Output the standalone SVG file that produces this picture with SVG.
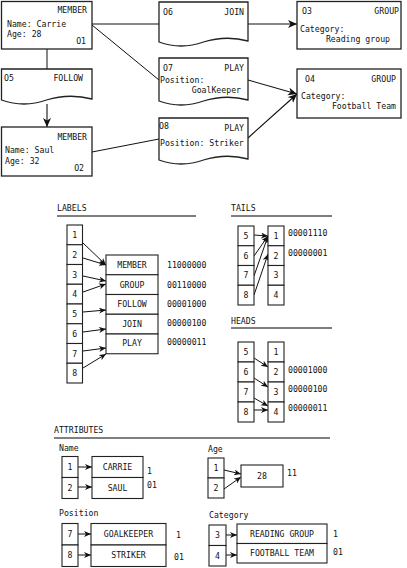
<svg xmlns="http://www.w3.org/2000/svg" width="407" height="568" viewBox="0 0 407 568">
<style>
text{font-family:"DejaVu Sans Mono","Liberation Mono",monospace;font-size:8.2px;fill:#111}
.e{text-anchor:end}.m{text-anchor:middle}
.b{fill:#fff;stroke:#222;stroke-width:1.3}
.c{fill:#fff;stroke:#222;stroke-width:1.1}
.l{fill:none;stroke:#111;stroke-width:1}
.a{fill:none;stroke:#111;stroke-width:1;marker-end:url(#ah)}
.A{fill:none;stroke:#111;stroke-width:1.1;marker-end:url(#AH)}
.u{stroke:#555;stroke-width:1.4}
</style>
<defs>
<marker id="ah" markerUnits="userSpaceOnUse" markerWidth="8" markerHeight="8" refX="7" refY="3" orient="auto"><path d="M0,0 L7,3 L0,6 L2,3 z" fill="#111"/></marker>
<marker id="AH" markerUnits="userSpaceOnUse" markerWidth="10" markerHeight="10" refX="9" refY="4" orient="auto"><path d="M0,0 L9,4 L0,8 L2.5,4 z" fill="#111"/></marker>
</defs>
<rect width="407" height="568" fill="#fff"/>
<g id="connectors">
<line class="l" x1="92" y1="24" x2="159" y2="24"/>
<line class="l" x1="92" y1="25" x2="159" y2="80"/>
<line class="l" x1="47" y1="49" x2="47" y2="69"/>
<line class="A" x1="47" y1="104" x2="47" y2="127"/>
<line class="l" x1="92" y1="152" x2="159" y2="139"/>
<line class="A" x1="248" y1="24" x2="297" y2="24"/>
<line class="A" x1="248" y1="80" x2="297" y2="94"/>
<line class="A" x1="248" y1="138" x2="297" y2="94"/>
<line class="a" x1="83" y1="243" x2="106" y2="265"/>
<line class="a" x1="83" y1="258" x2="106" y2="265"/>
<line class="a" x1="83" y1="276" x2="106" y2="281"/>
<line class="a" x1="83" y1="292" x2="106" y2="284"/>
<line class="a" x1="83" y1="312" x2="106" y2="310"/>
<line class="a" x1="83" y1="332" x2="106" y2="329"/>
<line class="a" x1="83" y1="351" x2="106" y2="348"/>
<line class="a" x1="83" y1="368" x2="106" y2="354"/>
<line class="a" x1="254" y1="235" x2="268" y2="236"/>
<line class="a" x1="254" y1="256" x2="268" y2="236"/>
<line class="a" x1="254" y1="276" x2="268" y2="236"/>
<line class="a" x1="254" y1="295" x2="268" y2="254"/>
<line class="a" x1="254" y1="358" x2="268" y2="367"/>
<line class="a" x1="254" y1="378" x2="268" y2="387"/>
<line class="a" x1="254" y1="398" x2="268" y2="406"/>
<line class="a" x1="254" y1="410" x2="268" y2="410"/>
<line class="a" x1="78" y1="467" x2="92" y2="467"/>
<line class="a" x1="78" y1="487" x2="92" y2="487"/>
<line class="a" x1="224" y1="470" x2="241" y2="474"/>
<line class="a" x1="224" y1="489" x2="241" y2="477"/>
<line class="a" x1="78" y1="534" x2="91" y2="534"/>
<line class="a" x1="78" y1="555" x2="91" y2="555"/>
<line class="a" x1="226" y1="535" x2="237" y2="535"/>
<line class="a" x1="226" y1="555" x2="237" y2="555"/>
</g>
<g id="n01"><rect class="b" x="1.5" y="1.5" width="90.5" height="47.5"/><text class="e" x="87" y="13">MEMBER</text><text x="7" y="27">Name: Carrie</text><text x="7" y="37">Age: 28</text><text class="e" x="86" y="44">O1</text></g>
<g id="n05"><path class="b" d="M1.5,69 H92 V99 Q69,93 46.5,100 Q24,108 1.5,100 Z"/><text x="4" y="81">O5</text><text class="e" x="83" y="81">FOLLOW</text></g>
<g id="n02"><rect class="b" x="1.5" y="127" width="90.5" height="49"/><text class="e" x="87" y="140">MEMBER</text><text x="5" y="153">Name: Saul</text><text x="5" y="164">Age: 32</text><text class="e" x="84" y="171">O2</text></g>
<g id="n06"><path class="b" d="M159,2 H248 V41 Q226,35 203.5,42 Q181,50 159,42 Z"/><text x="163" y="15">O6</text><text class="e" x="244" y="15">JOIN</text></g>
<g id="n07"><path class="b" d="M159,58 H248 V100 Q226,94 203.5,101 Q181,109 159,101 Z"/><text x="163" y="71">O7</text><text class="e" x="244" y="71">PLAY</text><text x="160" y="83">Position:</text><text class="e" x="241" y="93">GoalKeeper</text></g>
<g id="n08"><path class="b" d="M159,118 H248 V159 Q226,153 203.5,160 Q181,168 159,160 Z"/><text x="159" y="129">O8</text><text class="e" x="244" y="131">PLAY</text><text x="160" y="146">Position: Striker</text></g>
<g id="n03"><rect class="b" x="297" y="1.5" width="104" height="47.5"/><text x="302" y="14">O3</text><text class="e" x="399" y="14">GROUP</text><text x="300" y="32">Category:</text><text class="e" x="390" y="42">Reading group</text></g>
<g id="n04"><rect class="b" x="297" y="69" width="104" height="49"/><text x="305" y="82">O4</text><text class="e" x="396" y="82">GROUP</text><text x="301" y="99">Category:</text><text class="e" x="396" y="109">Football Team</text></g>
<g id="labels">
<text x="57" y="211">LABELS</text><line class="u" x1="57" y1="216" x2="196" y2="216"/>
<rect class="c" x="67" y="225" width="15.5" height="19.75"/><rect class="c" x="67" y="244.75" width="15.5" height="19.75"/><rect class="c" x="67" y="264.5" width="15.5" height="19.75"/><rect class="c" x="67" y="284.25" width="15.5" height="19.75"/><rect class="c" x="67" y="304" width="15.5" height="19.75"/><rect class="c" x="67" y="323.75" width="15.5" height="19.75"/><rect class="c" x="67" y="343.5" width="15.5" height="19.75"/><rect class="c" x="67" y="363.25" width="15.5" height="19.75"/>
<text class="m" x="74.8" y="238">1</text><text class="m" x="74.8" y="258">2</text><text class="m" x="74.8" y="277.5">3</text><text class="m" x="74.8" y="297">4</text><text class="m" x="74.8" y="317">5</text><text class="m" x="74.8" y="337">6</text><text class="m" x="74.8" y="356.5">7</text><text class="m" x="74.8" y="376">8</text>
<rect class="c" x="106" y="255" width="52" height="19.75"/><rect class="c" x="106" y="274.75" width="52" height="19.75"/><rect class="c" x="106" y="294.5" width="52" height="19.75"/><rect class="c" x="106" y="314.25" width="52" height="19.75"/><rect class="c" x="106" y="334" width="52" height="19.75"/>
<text class="m" x="132" y="268">MEMBER</text><text class="m" x="132" y="288">GROUP</text><text class="m" x="132" y="307">FOLLOW</text><text class="m" x="132" y="327">JOIN</text><text class="m" x="132" y="346">PLAY</text>
<text x="167" y="268">11000000</text><text x="167" y="288">00110000</text><text x="167" y="307">00001000</text><text x="167" y="326">00000100</text><text x="167" y="345">00000011</text>
</g>
<g id="tails">
<text x="231" y="211">TAILS</text><line class="u" x1="231" y1="216" x2="332" y2="216"/>
<rect class="c" x="238" y="226" width="16" height="19.75"/><rect class="c" x="238" y="245.75" width="16" height="19.75"/><rect class="c" x="238" y="265.5" width="16" height="19.75"/><rect class="c" x="238" y="285.25" width="16" height="19.75"/>
<rect class="c" x="268" y="226" width="16" height="19.75"/><rect class="c" x="268" y="245.75" width="16" height="19.75"/><rect class="c" x="268" y="265.5" width="16" height="19.75"/><rect class="c" x="268" y="285.25" width="16" height="19.75"/>
<text class="m" x="246" y="239">5</text><text class="m" x="246" y="259">6</text><text class="m" x="246" y="278">7</text><text class="m" x="246" y="298">8</text>
<text class="m" x="276" y="239">1</text><text class="m" x="276" y="259">2</text><text class="m" x="276" y="278">3</text><text class="m" x="276" y="298">4</text>
<text x="288" y="236">00001110</text><text x="288" y="256">00000001</text>
</g>
<g id="heads">
<text x="231" y="324">HEADS</text><line class="u" x1="231" y1="328" x2="332" y2="328"/>
<rect class="c" x="238" y="342" width="16" height="20"/><rect class="c" x="238" y="362" width="16" height="20"/><rect class="c" x="238" y="382" width="16" height="20"/><rect class="c" x="238" y="402" width="16" height="20"/>
<rect class="c" x="268" y="342" width="16" height="20"/><rect class="c" x="268" y="362" width="16" height="20"/><rect class="c" x="268" y="382" width="16" height="20"/><rect class="c" x="268" y="402" width="16" height="20"/>
<text class="m" x="246" y="355">5</text><text class="m" x="246" y="375">6</text><text class="m" x="246" y="395">7</text><text class="m" x="246" y="415">8</text>
<text class="m" x="276" y="355">1</text><text class="m" x="276" y="375">2</text><text class="m" x="276" y="395">3</text><text class="m" x="276" y="415">4</text>
<text x="288" y="373">00001000</text><text x="288" y="392">00000100</text><text x="288" y="411">00000011</text>
</g>
<g id="attributes">
<text x="54" y="433">ATTRIBUTES</text><line class="u" x1="54" y1="438" x2="330" y2="438"/>
<text x="59" y="451">Name</text>
<rect class="c" x="62" y="456.5" width="16" height="21"/><rect class="c" x="62" y="477.5" width="16" height="21"/>
<text class="m" x="70" y="470">1</text><text class="m" x="70" y="491">2</text>
<rect class="c" x="92" y="456.5" width="51" height="21"/><rect class="c" x="92" y="477.5" width="51" height="21"/>
<text class="m" x="117.5" y="470">CARRIE</text><text class="m" x="117.5" y="491">SAUL</text>
<text x="147" y="474">1</text><text x="147" y="488">01</text>
<text x="208" y="452">Age</text>
<rect class="c" x="208" y="458" width="16" height="20"/><rect class="c" x="208" y="478" width="16" height="20"/>
<text class="m" x="216" y="471">1</text><text class="m" x="216" y="491">2</text>
<rect class="c" x="241" y="465" width="42" height="22"/><text class="m" x="262" y="479">28</text>
<text x="287" y="476">11</text>
<text x="59" y="516">Position</text>
<rect class="c" x="62" y="523.5" width="16" height="21.5"/><rect class="c" x="62" y="545" width="16" height="21.5"/>
<text class="m" x="70" y="537">7</text><text class="m" x="70" y="558">8</text>
<rect class="c" x="91" y="523.5" width="75" height="21.5"/><rect class="c" x="91" y="545" width="75" height="21.5"/>
<text class="m" x="128.5" y="537">GOALKEEPER</text><text class="m" x="128.5" y="558">STRIKER</text>
<text x="176" y="538">1</text><text x="174" y="560">01</text>
<text x="209" y="518">Category</text>
<rect class="c" x="209" y="525" width="17" height="20.5"/><rect class="c" x="209" y="545.5" width="17" height="20.5"/>
<text class="m" x="217.5" y="538">3</text><text class="m" x="217.5" y="559">4</text>
<rect class="c" x="237" y="524" width="90" height="19.5"/><rect class="c" x="237" y="543.5" width="90" height="19.5"/>
<text class="m" x="282" y="537">READING GROUP</text><text class="m" x="282" y="556">FOOTBALL TEAM</text>
<text x="333" y="537">1</text><text x="333" y="555">01</text>
</g>
</svg>
